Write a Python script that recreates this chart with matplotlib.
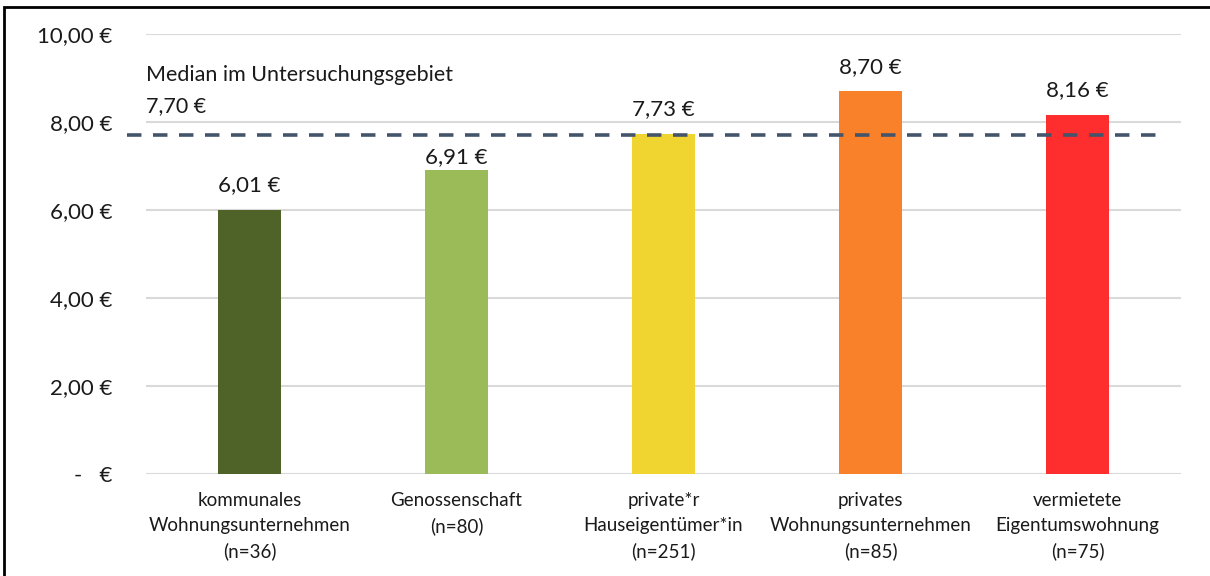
import matplotlib
matplotlib.use("Agg")
import matplotlib.pyplot as plt
from matplotlib.patches import Rectangle

categories = ["kommunales\nWohnungsunternehmen\n(n=36)",
              "Genossenschaft\n(n=80)",
              "private*r\nHauseigentümer*in\n(n=251)",
              "privates\nWohnungsunternehmen\n(n=85)",
              "vermietete\nEigentumswohnung\n(n=75)"]
values = [6.01, 6.91, 7.73, 8.70, 8.16]
value_labels = ["6,01 €", "6,91 €", "7,73 €", "8,70 €", "8,16 €"]
colors = ["#4F6228", "#9BBB59", "#F0D530", "#F8812A", "#FE2E2E"]
median = 7.70
median_text = "Median im Untersuchungsgebiet\n7,70 €"
yticks = [0, 2, 4, 6, 8, 10]
ytick_labels = ["-   €", "2,00 €", "4,00 €", "6,00 €", "8,00 €", "10,00 €"]

plt.rcParams['font.family'] = ['Lato', 'DejaVu Sans']

fig = plt.figure(figsize=(12.10, 5.76), dpi=100)
ax = fig.add_axes([146/1210, 1 - 474/576, (1181-146)/1210, (474-34)/576])

x = list(range(len(values)))
ax.bar(x, values, width=0.305, color=colors, zorder=3)
for xi, v, lab in zip(x, values, value_labels):
    # labels just below the median line are nudged closer to their bar
    off = 0.06 if 0 < median - v < 1.0 else 0.33
    ax.text(xi, v + off, lab, ha='center', va='bottom', fontsize=16, color='#1a1a1a')

ax.set_xlim(-0.5, 4.5)
ax.set_ylim(0, 10)
ax.set_yticks(yticks)
ax.set_yticklabels(ytick_labels, fontsize=16, color='#1a1a1a')
ax.set_xticks(x)
ax.set_xticklabels(categories, fontsize=13.5, color='#1a1a1a', linespacing=1.55)
ax.tick_params(axis='y', length=0, pad=24)
ax.tick_params(axis='x', length=0, pad=13)
ax.yaxis.grid(True, color='#D9D9D9', linewidth=1.5, zorder=0)
ax.set_axisbelow(True)
for s in ax.spines.values():
    s.set_visible(False)

ax.plot([-0.59, 4.41], [median, median], linestyle=(0, (4, 3.2)), color='#44546A',
        linewidth=2.6, clip_on=False, zorder=4)
ax.text(-0.5, 8.13, median_text, ha='left', va='bottom', fontsize=15.5,
        color='#1a1a1a', linespacing=1.7)

fig.patches.append(Rectangle((4/1210, -0.1), 1.2, 1 - 7/576 + 0.1, transform=fig.transFigure,
                             fill=False, edgecolor='black', linewidth=2))

fig.savefig("out.png", dpi=100)
